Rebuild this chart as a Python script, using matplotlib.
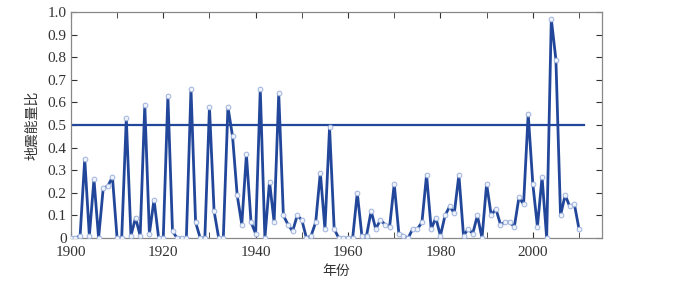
import numpy as np
import matplotlib
matplotlib.use("Agg")
import matplotlib.pyplot as plt
from matplotlib.ticker import MultipleLocator

# earthquake energy ratio per year
years = np.arange(1900, 2011)
ratio = [
    0.00, 0.00, 0.01, 0.35, 0.01, 0.26, 0.00, 0.22, 0.23, 0.27,  # 1900s
    0.00, 0.00, 0.53, 0.01, 0.09, 0.01, 0.59, 0.02, 0.17, 0.00,  # 1910s
    0.00, 0.63, 0.03, 0.00, 0.00, 0.00, 0.66, 0.07, 0.00, 0.00,  # 1920s
    0.58, 0.12, 0.00, 0.00, 0.58, 0.45, 0.19, 0.06, 0.37, 0.07,  # 1930s
    0.02, 0.66, 0.00, 0.25, 0.07, 0.64, 0.10, 0.06, 0.03, 0.10,  # 1940s
    0.08, 0.00, 0.01, 0.07, 0.29, 0.04, 0.49, 0.04, 0.00, 0.00,  # 1950s
    0.00, 0.00, 0.20, 0.01, 0.01, 0.12, 0.04, 0.08, 0.06, 0.05,  # 1960s
    0.24, 0.02, 0.01, 0.00, 0.04, 0.04, 0.07, 0.28, 0.04, 0.09,  # 1970s
    0.01, 0.10, 0.14, 0.11, 0.28, 0.01, 0.04, 0.02, 0.10, 0.00,  # 1980s
    0.24, 0.10, 0.13, 0.06, 0.07, 0.07, 0.05, 0.18, 0.15, 0.55,  # 1990s
    0.24, 0.05, 0.27, 0.00, 0.97, 0.79, 0.10, 0.19, 0.14, 0.15,  # 2000s
    0.04,
]
threshold = 0.5
threshold_span = [1900, 2011]

xticks = [1900, 1920, 1940, 1960, 1980, 2000]
yticks = np.round(np.arange(0, 1.01, 0.1), 1)
yticklabels = ["0"] + ["%.1f" % v for v in yticks[1:]]

plt.rcParams['font.family'] = ['Liberation Serif', 'Noto Sans CJK SC']
line_color = '#22479a'

fig = plt.figure(figsize=(6.75, 2.95), dpi=100)
ax = fig.add_axes([0.105, 0.193, 0.787, 0.766])

ax.plot(threshold_span, [threshold, threshold], color=line_color, lw=1.6, zorder=2)
ax.plot(years, ratio, color=line_color, lw=2.0, marker='o', ms=3.4,
        mfc='#eef2fb', mec='#9fb3dc', mew=0.7, zorder=3)

ax.set_xlim(1900, 2015)
ax.set_ylim(0, 1.0)
ax.set_xticks(xticks)
ax.xaxis.set_minor_locator(MultipleLocator(10))
ax.set_yticks(yticks)
ax.set_yticklabels(yticklabels)
ax.tick_params(direction='in', top=True, right=True, which='both',
               labelsize=11, colors='#333333', length=4)
ax.tick_params(axis='x', which='major', pad=6)
ax.tick_params(axis='y', which='major', pad=3)
ax.tick_params(which='minor', length=4)
for s in ax.spines.values():
    s.set_color('#888888')
    s.set_linewidth(0.9)

ax.set_xlabel('年份', family=['Noto Sans CJK SC'], fontsize=10, color='#333333', labelpad=3)
ax.set_ylabel('地震能量比', family=['Noto Sans CJK SC'], fontsize=10, color='#333333', labelpad=6)

fig.savefig('out.png', dpi=100)
